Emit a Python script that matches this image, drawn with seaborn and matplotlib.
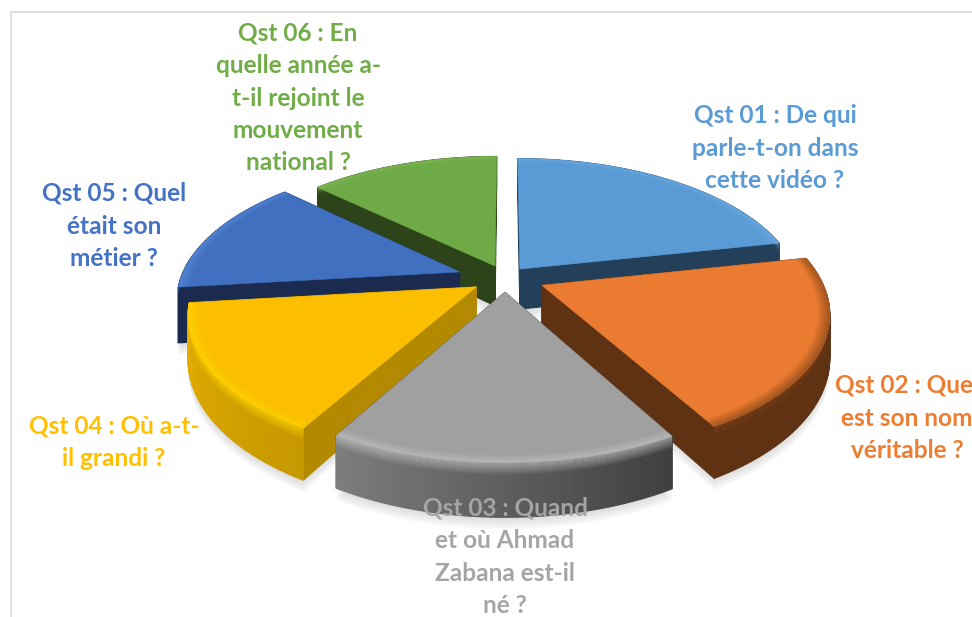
import numpy as np
import matplotlib
matplotlib.use("Agg")
import matplotlib.pyplot as plt
import seaborn as sns
from matplotlib.colors import to_rgb
from matplotlib.patches import Polygon

labels = ["Qst 01 : De qui\nparle-t-on dans\ncette vidéo ?",
          "Qst 02 : Quel\nest son nom\nvéritable ?",
          "Qst 03 : Quand\net où Ahmad\nZabana est-il\nné ?",
          "Qst 04 : Où a-t-\nil grandi ?",
          "Qst 05 : Quel\nétait son\nmétier ?",
          "Qst 06 : En\nquelle année a-\nt-il rejoint le\nmouvement\nnational ?"]
values = [21.7, 20.1, 16.5, 14.9, 13.75, 13.05]

label_colors = ["#5B9BD5", "#ED7D31", "#A5A5A5", "#FFC000", "#4472C4", "#70AD47"]
top_colors = ["#5B9BD5", "#EA7B30", "#A0A0A0", "#FBBE00", "#4170C0", "#6EAA46"]
cut_colors = ["#243F59", "#5F3213", "#5A5A5A", "#B38900", "#1B2B50", "#2D4319"]
wall_start = ["#243F59", "#5F3213", "#3F3F3F", "#C69800", "#1B2B50", "#2D4319"]
wall_end = ["#243F59", "#5F3213", "#7D7D7D", "#E6AE00", "#1B2B50", "#2D4319"]
rim_colors = ["#6FAEE6", "#7A4018", "#C4C4C4", "#FFD800", "#5C8CDE", "#84BE5C"]
offset_x = [0.054, 0.131, 0.0, -0.102, -0.164, -0.036]
offset_y = [0.008, 0.13, 0.18, 0.142, 0.03, -0.015]
wall_scale = [1, 1, 1, 1, 1.35, 1]
label_pos = [(775, 148), (907, 418), (505, 557), (114, 442), (114, 226), (298, 98)]
draw_order = [5, 4, 0, 3, 1, 2]

sns.set_theme(style="white")
plt.rcParams['font.family'] = ['Lato', 'DejaVu Sans']
palette = sns.color_palette(label_colors)

W, H = 972, 617
fig = plt.figure(figsize=(W / 100, H / 100), dpi=100)
ax = fig.add_axes([0, 0, 1, 1])
ax.set_xlim(0, W); ax.set_ylim(H, 0); ax.axis("off")

CX, CY, A, B, P = 505, 268, 275, 130, 0.18


def project(X, Y, z=0.0):
    s = 1 / (1 - P * np.asarray(Y))
    return CX + A * np.asarray(X) * s, CY + B * np.asarray(Y) * s + z * 40 * s ** 1.3


def mix(c0, c1, f):
    return tuple(np.array(to_rgb(c0)) * (1 - f) + np.array(to_rgb(c1)) * f)


def poly(xs, ys, color, z, alpha=None, lw=0.8):
    ec = color if alpha is None else "none"
    ax.add_patch(Polygon(np.c_[xs, ys], closed=True, fc=color, ec=ec, lw=lw, alpha=alpha, zorder=z))


angles = np.cumsum([0] + values) / sum(values) * 2 * np.pi

for rank, i in enumerate(draw_order):
    z = 2 + rank
    a0, a1 = angles[i], angles[i + 1]
    ox, oy = offset_x[i], offset_y[i]
    h = wall_scale[i]
    t = np.linspace(a0, a1, 70)
    X, Y = ox + np.sin(t), oy - np.cos(t)

    # soft shadow on the ground
    sx, sy = project(np.r_[ox, X], np.r_[oy, Y], h)
    for k in range(2, 14, 2):
        poly(sx, sy + k, "k", 1, alpha=0.022)

    # cut faces
    for a in (a0, a1):
        ex, ey = ox + np.sin(a), oy - np.cos(a)
        x0, y0 = project(ox, oy)
        x1, y1 = project(ex, ey)
        x2, y2 = project(ex, ey, h)
        x3, y3 = project(ox, oy, h)
        poly([x0, x1, x2, x3], [y0, y1, y2, y3], cut_colors[i], z)

    # outer wall: gradient along the arc
    xt, yt = project(X, Y)
    xb, yb = project(X, Y, h)
    for j in range(len(t) - 1):
        col = mix(wall_start[i], wall_end[i], j / (len(t) - 2))
        poly([xt[j], xt[j + 1], xb[j + 1], xb[j]], [yt[j], yt[j + 1], yb[j + 1], yb[j]], col, z + 0.1)

    # bevel below the edge of the top
    n = 12
    for k in range(n):
        xa, ya = project(X, Y, 0.22 * k / n)
        xc, yc = project(X, Y, 0.22 * (k + 1) / n)
        poly(np.r_[xa, xc[::-1]], np.r_[ya, yc[::-1]], rim_colors[i], z + 0.15, alpha=(1 - k / n) * 0.7)

    # top face
    xs, ys = project(np.r_[ox, X], np.r_[oy, Y])
    poly(xs, ys, top_colors[i], z + 0.2, lw=0.4)

    # bevel on the top, near the edge
    for k in range(n):
        r0, r1 = 1 - 0.04 * k / n, 1 - 0.04 * (k + 1) / n
        xa, ya = project(ox + r0 * np.sin(t), oy - r0 * np.cos(t))
        xc, yc = project(ox + r1 * np.sin(t), oy - r1 * np.cos(t))
        poly(np.r_[xa, xc[::-1]], np.r_[ya, yc[::-1]], rim_colors[i], z + 0.25, alpha=(1 - k / n) * 0.7)

for lab, pos, col in zip(labels, label_pos, palette):
    ax.text(pos[0], pos[1], lab, color=col, fontsize=17.6, fontweight="bold", ha="center",
            va="center", linespacing=1.5, zorder=20)

ax.plot([11, 11, W], [H, 12, 12], color="#D9D9D9", lw=1.2, zorder=0.5)
fig.savefig("out.png", dpi=100, facecolor="white")
